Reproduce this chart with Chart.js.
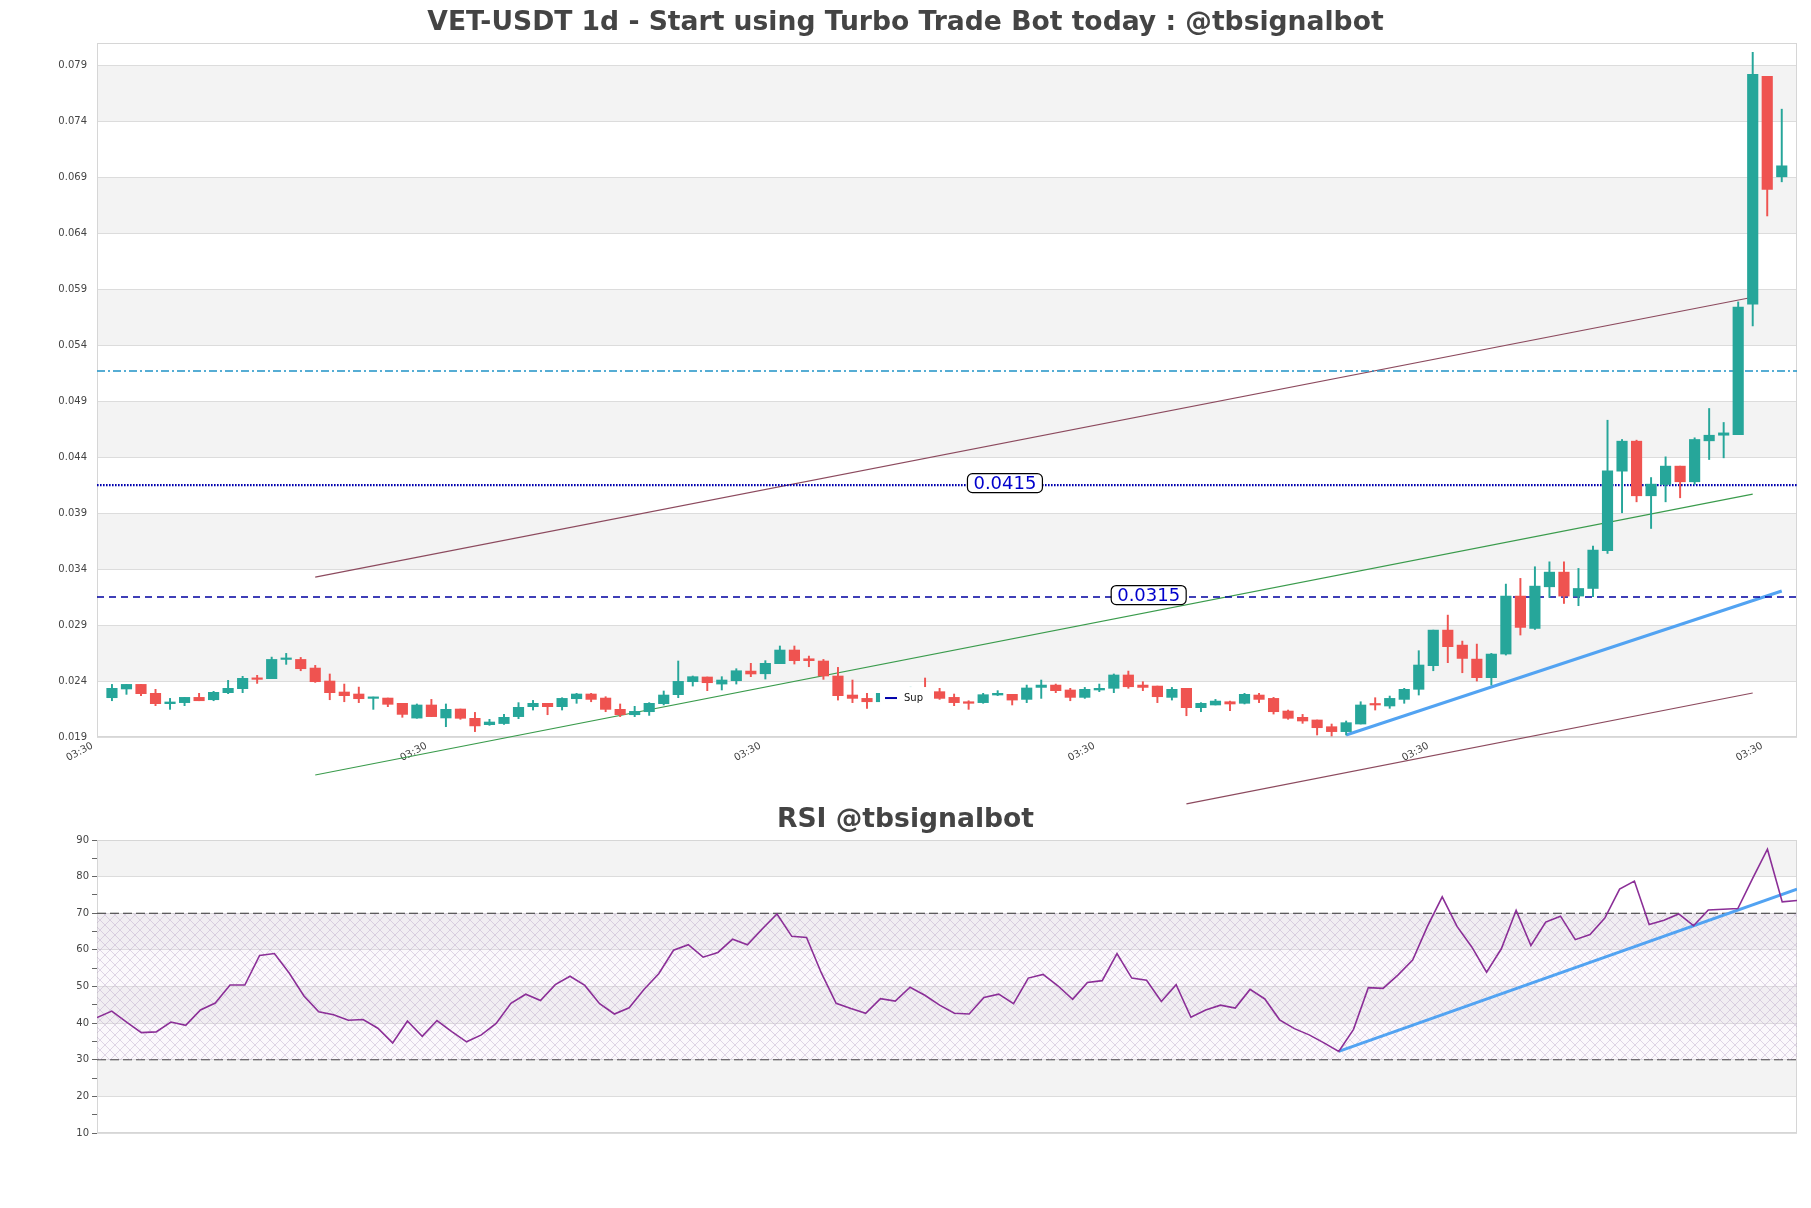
<!DOCTYPE html>
<html>
<head>
<meta charset="utf-8">
<title>VET-USDT 1d</title>
<script src="https://cdn.jsdelivr.net/npm/chart.js@4.4.1/dist/chart.umd.min.js"></script>
<style>
  html, body { margin: 0; padding: 0; background: #fff; }
  #wrap { position: relative; width: 1811px; height: 1208px; }
  #rsiChart { position: absolute; left: 0; top: 780px; }
  #priceChart { position: absolute; left: 0; top: 0; }
</style>
</head>
<body>
<div id="wrap">
  <canvas id="rsiChart" width="1811" height="428"></canvas>
  <canvas id="priceChart" width="1811" height="830"></canvas>
</div>
<script>
// daily candles
const candleOpen = [
  0.02251, 0.02329, 0.02370, 0.02290, 0.02198, 0.02207, 0.02254, 0.02233, 0.02296, 0.02332,
  0.02421, 0.02421, 0.02593, 0.02593, 0.02516, 0.02400, 0.02302, 0.02284, 0.02245, 0.02248,
  0.02201, 0.02069, 0.02186, 0.02070, 0.02150, 0.02067, 0.02010, 0.02020, 0.02082, 0.02171,
  0.02201, 0.02171, 0.02242, 0.02284, 0.02248, 0.02147, 0.02099, 0.02126, 0.02198, 0.02278,
  0.02394, 0.02436, 0.02373, 0.02403, 0.02489, 0.02465, 0.02555, 0.02677, 0.02599, 0.02579,
  0.02445, 0.02275, 0.02245, 0.02215, 0.02290, 0.02275, 0.02335, 0.02305, 0.02254, 0.02215,
  0.02207, 0.02275, 0.02281, 0.02236, 0.02343, 0.02364, 0.02320, 0.02254, 0.02320, 0.02335,
  0.02454, 0.02364, 0.02355, 0.02254, 0.02335, 0.02162, 0.02186, 0.02215, 0.02201, 0.02275,
  0.02245, 0.02132, 0.02076, 0.02052, 0.01992, 0.01948, 0.02016, 0.02195, 0.02177, 0.02236,
  0.02326, 0.02537, 0.02855, 0.02721, 0.02596, 0.02430, 0.02641, 0.03159, 0.02870, 0.03242,
  0.03373, 0.03159, 0.03227, 0.03564, 0.04275, 0.04543, 0.04055, 0.04156, 0.04320, 0.04180,
  0.04546, 0.04596, 0.04602, 0.05766, 0.07802, 0.06905
];
const candleHigh = [
  0.02370, 0.02370, 0.02370, 0.02326, 0.02245, 0.02254, 0.02290, 0.02308, 0.02406, 0.02442,
  0.02451, 0.02614, 0.02647, 0.02611, 0.02540, 0.02463, 0.02373, 0.02346, 0.02257, 0.02248,
  0.02201, 0.02195, 0.02236, 0.02195, 0.02150, 0.02120, 0.02058, 0.02102, 0.02207, 0.02227,
  0.02201, 0.02251, 0.02290, 0.02290, 0.02260, 0.02195, 0.02174, 0.02207, 0.02311, 0.02579,
  0.02445, 0.02436, 0.02439, 0.02510, 0.02558, 0.02582, 0.02713, 0.02713, 0.02623, 0.02593,
  0.02522, 0.02409, 0.02290, 0.02295, 0.02320, 0.02345, 0.02427, 0.02335, 0.02284, 0.02224,
  0.02290, 0.02314, 0.02281, 0.02364, 0.02409, 0.02373, 0.02335, 0.02343, 0.02373, 0.02463,
  0.02489, 0.02394, 0.02355, 0.02343, 0.02335, 0.02207, 0.02236, 0.02221, 0.02290, 0.02290,
  0.02254, 0.02141, 0.02102, 0.02052, 0.02016, 0.02043, 0.02215, 0.02251, 0.02266, 0.02335,
  0.02671, 0.02855, 0.02989, 0.02757, 0.02730, 0.02647, 0.03266, 0.03317, 0.03421, 0.03465,
  0.03465, 0.03406, 0.03605, 0.04730, 0.04558, 0.04552, 0.04218, 0.04403, 0.04320, 0.04573,
  0.04835, 0.04710, 0.05787, 0.08016, 0.07802, 0.07509
];
const candleLow = [
  0.02224, 0.02281, 0.02269, 0.02180, 0.02147, 0.02180, 0.02224, 0.02224, 0.02287, 0.02296,
  0.02379, 0.02421, 0.02549, 0.02492, 0.02388, 0.02233, 0.02215, 0.02207, 0.02147, 0.02171,
  0.02076, 0.02067, 0.02082, 0.01992, 0.02058, 0.01948, 0.02004, 0.02013, 0.02064, 0.02141,
  0.02099, 0.02141, 0.02201, 0.02215, 0.02126, 0.02082, 0.02082, 0.02093, 0.02186, 0.02251,
  0.02355, 0.02314, 0.02320, 0.02373, 0.02439, 0.02418, 0.02555, 0.02552, 0.02528, 0.02415,
  0.02230, 0.02207, 0.02156, 0.02190, 0.02250, 0.02255, 0.02290, 0.02236, 0.02180, 0.02147,
  0.02201, 0.02270, 0.02186, 0.02207, 0.02245, 0.02296, 0.02224, 0.02245, 0.02305, 0.02296,
  0.02335, 0.02314, 0.02207, 0.02230, 0.02090, 0.02126, 0.02186, 0.02135, 0.02195, 0.02207,
  0.02105, 0.02058, 0.02022, 0.01918, 0.01909, 0.01918, 0.02016, 0.02141, 0.02156, 0.02201,
  0.02275, 0.02492, 0.02564, 0.02474, 0.02400, 0.02364, 0.02632, 0.02811, 0.02861, 0.03147,
  0.03093, 0.03073, 0.03153, 0.03540, 0.03903, 0.04001, 0.03763, 0.04001, 0.04037, 0.04156,
  0.04379, 0.04394, 0.04602, 0.05573, 0.06555, 0.06860
];
const candleClose = [
  0.02335, 0.02370, 0.02287, 0.02198, 0.02213, 0.02254, 0.02224, 0.02299, 0.02335, 0.02424,
  0.02415, 0.02593, 0.02605, 0.02510, 0.02394, 0.02296, 0.02269, 0.02242, 0.02257, 0.02192,
  0.02102, 0.02186, 0.02082, 0.02147, 0.02067, 0.01999, 0.02034, 0.02076, 0.02165, 0.02201,
  0.02171, 0.02245, 0.02284, 0.02236, 0.02147, 0.02099, 0.02129, 0.02201, 0.02275, 0.02397,
  0.02439, 0.02385, 0.02409, 0.02492, 0.02463, 0.02558, 0.02677, 0.02582, 0.02582, 0.02445,
  0.02269, 0.02245, 0.02215, 0.02290, 0.02275, 0.02335, 0.02310, 0.02245, 0.02207, 0.02201,
  0.02278, 0.02290, 0.02230, 0.02338, 0.02364, 0.02314, 0.02254, 0.02326, 0.02335, 0.02454,
  0.02349, 0.02343, 0.02260, 0.02326, 0.02162, 0.02201, 0.02221, 0.02195, 0.02281, 0.02236,
  0.02126, 0.02067, 0.02043, 0.01983, 0.01948, 0.02028, 0.02186, 0.02186, 0.02245, 0.02326,
  0.02543, 0.02855, 0.02707, 0.02602, 0.02430, 0.02641, 0.03159, 0.02879, 0.03248, 0.03373,
  0.03159, 0.03227, 0.03570, 0.04278, 0.04543, 0.04055, 0.04159, 0.04320, 0.04180, 0.04558,
  0.04596, 0.04617, 0.05742, 0.07820, 0.06793, 0.07003
];

const rsiValues = [
  41.5, 43.3, 40.3, 37.4, 37.6, 40.3, 39.4, 43.6, 45.5, 50.4,
  50.4, 58.5, 59.0, 53.7, 47.4, 43.1, 42.3, 40.8, 41.0, 38.6,
  34.6, 40.6, 36.4, 40.7, 37.7, 34.9, 36.8, 39.9, 45.4, 47.9,
  46.2, 50.5, 52.8, 50.3, 45.3, 42.5, 44.2, 49.2, 53.5, 59.9,
  61.4, 58.0, 59.3, 62.9, 61.4, 65.7, 69.8, 63.7, 63.4, 53.7,
  45.4, 44.0, 42.7, 46.7, 46.0, 49.8, 47.6, 44.9, 42.7, 42.5,
  47.0, 47.9, 45.3, 52.3, 53.3, 50.2, 46.5, 51.1, 51.6, 59.0,
  52.3, 51.7, 45.9, 50.5, 41.6, 43.6, 44.9, 44.1, 49.2, 46.6,
  40.9, 38.5, 36.8, 34.6, 32.3, 38.3, 49.7, 49.5, 53.1, 57.2,
  66.4, 74.5, 66.4, 60.8, 53.9, 60.3, 70.8, 61.2, 67.6, 69.2,
  62.8, 64.2, 68.7, 76.6, 78.8, 66.9, 68.1, 69.8, 66.6, 70.9,
  71.1, 71.3, 79.5, 87.5, 73.1, 73.5
];

const priceTicks = [0.019, 0.024, 0.029, 0.034, 0.039, 0.044, 0.049, 0.054, 0.059, 0.064, 0.069, 0.074, 0.079];
const timeTicks = [-1, 22, 45, 68, 91, 114];
const timeLabel = '03:30';
const rsiTicks = [10, 15, 20, 25, 30, 35, 40, 45, 50, 55, 60, 65, 70, 75, 80, 85, 90];

// levels and trend lines: [candle index, price]
const supportLevel = 0.0415;
const supportLevel2 = 0.0315;
const resistLevel = 0.0517;
const upperChannel = [[14, 0.03329], [113, 0.05829]];
const lowerChannel = [[74, 0.01302], [113, 0.02293]];
const greenTrend = [[14, 0.01561], [113, 0.04070]];
const supportTrend = [[85, 0.01918], [115, 0.03204]];
const rsiTrend = [[84, 32.3], [115, 76.6]];

const X_MIN = -1.03, X_MAX = 116.05;
const UP = '#26a69a', DOWN = '#ef5350';

Chart.defaults.font.family = '"DejaVu Sans", sans-serif';
Chart.defaults.color = '#444';

const candleColors = candleOpen.map((o, i) => candleClose[i] >= o ? UP : DOWN);
const toPoints = arr => arr.map(p => ({ x: p[0], y: p[1] }));
const flat = v => [{ x: X_MIN, y: v }, { x: X_MAX, y: v }];

// shaded bands between alternate ticks + plot frame
const bandPlugin = {
  id: 'bands',
  beforeDraw(chart, args, opts) {
    const { ctx, chartArea: a, scales: { y } } = chart;
    ctx.save();
    ctx.fillStyle = '#f3f3f3';
    opts.ranges.forEach(([lo, hi]) => {
      const y1 = y.getPixelForValue(hi), y2 = y.getPixelForValue(lo);
      ctx.fillRect(a.left, y1, a.right - a.left, y2 - y1);
    });
    ctx.restore();
  },
  beforeDatasetsDraw(chart) {
    const { ctx, chartArea: a } = chart;
    ctx.save();
    ctx.strokeStyle = '#d6d6d6';
    ctx.lineWidth = 1;
    ctx.strokeRect(a.left + 0.5, a.top + 0.5, a.right - a.left - 1, a.bottom - a.top - 1);
    ctx.restore();
  }
};

function roundBox(ctx, x, y, w, h, r) {
  ctx.beginPath();
  ctx.moveTo(x + r, y);
  ctx.arcTo(x + w, y, x + w, y + h, r);
  ctx.arcTo(x + w, y + h, x, y + h, r);
  ctx.arcTo(x, y + h, x, y, r);
  ctx.arcTo(x, y, x + w, y, r);
  ctx.closePath();
}

// boxed price labels on the levels, and the small "Sup" legend
const levelLabelPlugin = {
  id: 'levelLabels',
  afterDatasetsDraw(chart, args, opts) {
    const { ctx, chartArea: a, scales: { x, y } } = chart;
    ctx.save();
    ctx.font = '18px "DejaVu Sans"';
    ctx.textAlign = 'center';
    ctx.textBaseline = 'middle';
    opts.items.forEach(it => {
      const px = x.getPixelForValue(it.at);
      const py = y.getPixelForValue(it.value) - 2;
      const text = it.value.toFixed(4);
      const w = ctx.measureText(text).width + 12, h = 19;
      roundBox(ctx, px - w / 2, py - h / 2, w, h, 5);
      ctx.fillStyle = '#fff';
      ctx.fill();
      ctx.strokeStyle = '#000';
      ctx.lineWidth = 1.2;
      ctx.stroke();
      ctx.fillStyle = '#0000cc';
      ctx.fillText(text, px, py + 1);
    });
    // legend
    const lx = a.left + (a.right - a.left) * 0.4606;
    const ly = a.top + (a.bottom - a.top) * 0.928;
    ctx.fillStyle = '#fff';
    ctx.fillRect(lx, ly, 52, 25);
    ctx.strokeStyle = '#0000aa';
    ctx.lineWidth = 2;
    ctx.beginPath();
    ctx.moveTo(lx + 5, ly + 11);
    ctx.lineTo(lx + 17, ly + 11);
    ctx.stroke();
    ctx.fillStyle = '#111';
    ctx.font = '10px "DejaVu Sans"';
    ctx.textAlign = 'left';
    ctx.fillText(opts.legend, lx + 24, ly + 11);
    ctx.restore();
  }
};

function hatchPattern() {
  const c = document.createElement('canvas');
  c.width = 10; c.height = 10;
  const g = c.getContext('2d');
  g.fillStyle = 'rgba(235, 215, 240, 0.18)';
  g.fillRect(0, 0, 10, 10);
  g.strokeStyle = 'rgba(170, 145, 185, 0.5)';
  g.lineWidth = 0.7;
  g.beginPath();
  g.moveTo(0, 0); g.lineTo(10, 10);
  g.moveTo(10, 0); g.lineTo(0, 10);
  g.stroke();
  return g.createPattern(c, 'repeat');
}

const priceBands = [];
for (let i = 1; i + 1 < priceTicks.length; i += 2) priceBands.push([priceTicks[i], priceTicks[i + 1]]);
const rsiBands = [[20, 30], [40, 50], [60, 70], [80, 90]];

const trendStyle = (color, width) => ({
  type: 'line', borderColor: color, borderWidth: width, pointRadius: 0, clip: false, fill: false
});

new Chart(document.getElementById('priceChart'), {
  type: 'bar',
  data: {
    datasets: [
      {
        label: 'body',
        data: candleOpen.map((o, i) => ({ x: i, y: [o, candleClose[i]] })),
        backgroundColor: candleColors,
        barThickness: 10.5,
        minBarLength: 1.5,
        grouped: false,
        order: 0
      },
      {
        label: 'wick',
        data: candleLow.map((l, i) => ({ x: i, y: [l, candleHigh[i]] })),
        backgroundColor: candleColors,
        barThickness: 1.3,
        grouped: false,
        order: 1
      },
      { type: 'line', label: 'Sup', data: flat(supportLevel), borderColor: '#0000b0', borderWidth: 2.2,
        borderDash: [1.6, 1.4], pointRadius: 0, order: 2 },
      { type: 'line', label: 'Sup2', data: flat(supportLevel2), borderColor: '#0000a0', borderWidth: 1.5,
        borderDash: [7, 5], pointRadius: 0, order: 3 },
      { type: 'line', label: 'Res', data: flat(resistLevel), borderColor: '#1f93c6', borderWidth: 1.4,
        borderDash: [8, 3, 2, 3], pointRadius: 0, order: 4 },
      Object.assign({ label: 'upper', data: toPoints(upperChannel), order: 5 }, trendStyle('#8c4a5e', 1.2)),
      Object.assign({ label: 'lower', data: toPoints(lowerChannel), order: 6 }, trendStyle('#8c4a5e', 1.2)),
      Object.assign({ label: 'trend', data: toPoints(greenTrend), order: 7 }, trendStyle('#3a9b4c', 1.1)),
      Object.assign({ label: 'support', data: toPoints(supportTrend), order: 8 }, trendStyle('#52a3f2', 3))
    ]
  },
  options: {
    responsive: false,
    animation: false,
    devicePixelRatio: 1,
    layout: { padding: { left: 14, right: 14, top: 0, bottom: 0 } },
    scales: {
      x: {
        type: 'linear',
        min: X_MIN,
        max: X_MAX,
        offset: false,
        grid: { display: false, drawTicks: false },
        border: { display: false },
        afterBuildTicks: s => { s.ticks = timeTicks.map(v => ({ value: v })); },
        afterFit: s => { s.height = 93; },
        ticks: {
          autoSkip: false,
          minRotation: 28,
          maxRotation: 28,
          padding: 3,
          labelOffset: -5,
          color: '#444',
          font: { size: 10 },
          callback: () => timeLabel
        }
      },
      y: {
        type: 'linear',
        min: 0.019,
        max: 0.081,
        grid: { color: '#dcdcdc', drawTicks: false },
        border: { display: false },
        afterBuildTicks: s => { s.ticks = priceTicks.map(v => ({ value: v })); },
        afterFit: s => { s.width = 83; },
        ticks: {
          padding: 10,
          color: '#444',
          font: { size: 10 },
          callback: v => v.toFixed(3)
        }
      }
    },
    plugins: {
      legend: { display: false },
      tooltip: { enabled: false },
      title: {
        display: true,
        text: 'VET-USDT 1d - Start using Turbo Trade Bot today : @tbsignalbot',
        color: '#444',
        font: { size: 26.6, weight: 'bold' },
        padding: { top: 7, bottom: 4.1 }
      },
      bands: { ranges: priceBands },
      levelLabels: {
        items: [{ value: supportLevel, at: 61.5 }, { value: supportLevel2, at: 71.4 }],
        legend: 'Sup'
      }
    }
  },
  plugins: [bandPlugin, levelLabelPlugin]
});

new Chart(document.getElementById('rsiChart'), {
  type: 'line',
  data: {
    datasets: [
      { label: 'RSI', data: rsiValues.map((v, i) => ({ x: i, y: v })), borderColor: '#8b2f97',
        borderWidth: 1.6, pointRadius: 0, order: 0 },
      { label: 'rsiTrend', data: toPoints(rsiTrend), borderColor: '#52a3f2', borderWidth: 3,
        pointRadius: 0, order: 1 },
      { label: '70', data: [{ x: 0, y: 70 }, { x: rsiValues.length - 1, y: 70 }], borderColor: '#333',
        borderWidth: 1.2, borderDash: [9, 4], pointRadius: 0, fill: '+1', backgroundColor: hatchPattern(), order: 2 },
      { label: '30', data: [{ x: 0, y: 30 }, { x: rsiValues.length - 1, y: 30 }], borderColor: '#333',
        borderWidth: 1.2, borderDash: [9, 4], pointRadius: 0, fill: false, order: 3 }
    ]
  },
  options: {
    responsive: false,
    animation: false,
    devicePixelRatio: 1,
    layout: { padding: { left: 14, right: 14, top: 0, bottom: 75 } },
    scales: {
      x: { type: 'linear', min: 0, max: rsiValues.length - 1, display: false },
      y: {
        type: 'linear',
        min: 10,
        max: 90,
        border: { display: false },
        grid: {
          color: c => (c.tick && c.tick.value % 10 === 0) ? '#dcdcdc' : 'rgba(0,0,0,0)',
          tickColor: '#666',
          tickLength: 5
        },
        afterBuildTicks: s => { s.ticks = rsiTicks.map(v => ({ value: v })); },
        afterFit: s => { s.width = 83; },
        ticks: {
          padding: 3,
          color: '#444',
          font: { size: 10 },
          callback: v => (v % 10 === 0 ? String(v) : '')
        }
      }
    },
    plugins: {
      legend: { display: false },
      tooltip: { enabled: false },
      title: {
        display: true,
        text: 'RSI @tbsignalbot',
        color: '#444',
        font: { size: 26.6, weight: 'bold' },
        padding: { top: 24, bottom: 4.1 }
      },
      bands: { ranges: rsiBands }
    }
  },
  plugins: [bandPlugin]
});
</script>
</body>
</html>
